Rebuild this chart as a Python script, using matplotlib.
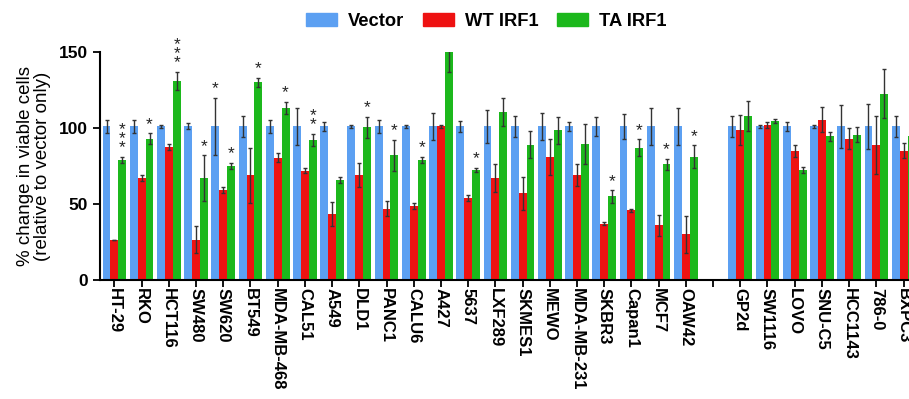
import matplotlib
matplotlib.use("Agg")
import matplotlib.pyplot as plt
from matplotlib.patches import Patch
import numpy as np

plt.rcParams['font.family'] = ['Liberation Sans', 'DejaVu Sans']

# cell lines ('' = empty slot between the two panels)
cell_lines = ['HT-29', 'RKO', 'HCT116', 'SW480', 'SW620', 'BT549', 'MDA-MB-468',
              'CAL51', 'A549', 'DLD1', 'PANC1', 'CALU6', 'A427', '5637', 'LXF289',
              'SKMES1', 'MEWO', 'MDA-MB-231', 'SKBR3', 'Capan1', 'MCF7', 'OAW42',
              '', 'GP2d', 'SW1116', 'LOVO', 'SNU-C5', 'HCC1143', '786-0', 'BXPC3']

vector = [101, 101, 101, 101, 101, 101, 101, 101, 101, 101, 101, 101, 101, 101, 101,
          101, 101, 101, 101, 101, 101, 101, np.nan, 101, 101, 101, 101, 101, 101, 101]
vector_err = [4, 4, 1, 2, 19, 7, 4, 12, 3, 1, 4, 1, 9, 3.5, 11,
              7, 9, 3, 6, 8, 12, 12, np.nan, 7, 1, 3, 1, 14, 15, 7]

wt_irf1 = [26.5, 67, 87.5, 26.5, 59, 69, 80.5, 72, 43.5, 69, 47, 48.5, 101, 54, 67,
           57, 81, 69, 37, 46, 36, 30, np.nan, 98.5, 102, 85, 105.5, 93, 89, 85]
wt_err = [0, 2, 2, 9, 2, 18, 3, 1.5, 8, 8, 5, 2, 1, 2, 9,
          11, 12, 7, 1, 1, 7, 12, np.nan, 10, 2, 4, 8, 7, 19, 5]

ta_irf1 = [79, 93, 131, 67, 75, 130, 113, 92, 65.5, 100.5, 82, 79, 150, 72.5, 110.5,
           89, 98.5, 89.5, 55, 87, 76, 81, np.nan, 108, 104.5, 72.5, 94.5, 95.5, 122.5, 95]
ta_err = [2, 3.5, 6, 15, 2, 3, 4, 4, 2, 7, 10, 2, 13, 1.5, 9,
          9, 9, 13, 4, 5.5, 3.5, 7.5, np.nan, 10, 1.5, 2, 3, 5, 16, 5]

# significance marks: (cell line, series, label)
stars = [('HT-29', 'ta', '***'), ('RKO', 'ta', '*'), ('HCT116', 'ta', '***'),
         ('SW480', 'ta', '*'), ('SW620', 'vec', '*'), ('SW620', 'ta', '*'),
         ('BT549', 'ta', '*'), ('MDA-MB-468', 'ta', '*'), ('CAL51', 'ta', '**'),
         ('DLD1', 'ta', '*'), ('PANC1', 'ta', '*'), ('CALU6', 'ta', '*'),
         ('5637', 'ta', '*'), ('SKBR3', 'ta', '*'), ('Capan1', 'ta', '*'),
         ('MCF7', 'ta', '*'), ('OAW42', 'ta', '*')]

c_vec = '#5ca0f2'
c_wt = '#ee1212'
c_ta = '#1cb81c'

fig = plt.figure(figsize=(9.09, 3.99), dpi=100)
ax = fig.add_axes([0.110, 0.298, 0.89, 0.572])

x = np.arange(len(cell_lines))
w = 0.29
ekw = dict(ecolor='#333333', elinewidth=1.0, capsize=1.5, capthick=1.0)
ax.bar(x - w, vector, w, yerr=vector_err, color=c_vec, error_kw=ekw)
ax.bar(x, wt_irf1, w, yerr=wt_err, color=c_wt, error_kw=ekw)
ax.bar(x + w, ta_irf1, w, yerr=ta_err, color=c_ta, error_kw=ekw)

series = {'vec': (vector, vector_err, -w), 'wt': (wt_irf1, wt_err, 0), 'ta': (ta_irf1, ta_err, w)}
for name, key, label in stars:
    i = cell_lines.index(name)
    vals, errs, off = series[key]
    top = vals[i] + errs[i]
    ax.text(i + off, top + 1.0, '\n'.join(label), ha='center', va='bottom',
            fontsize=12.5, linespacing=0.5, color='#222222')

ax.set_xlim(-0.53, 29.2)
ax.set_ylim(0, 150)
ax.set_yticks([0, 50, 100, 150])
ax.set_xticks(x)
ax.set_xticklabels(cell_lines, rotation=-90, fontsize=12, fontweight='bold')
ax.tick_params(axis='y', labelsize=12.5, width=1.3, length=5, direction='out')
ax.tick_params(axis='x', width=1.3, length=5, direction='out', pad=1)
for lab in ax.get_yticklabels():
    lab.set_fontweight('bold')
ax.spines['top'].set_visible(False)
ax.spines['right'].set_visible(False)
ax.spines['left'].set_linewidth(1.5)
ax.spines['bottom'].set_linewidth(1.5)
ax.set_ylabel('% change in viable cells\n(relative to vector only)', fontsize=13.5,
              labelpad=6, linespacing=1.0)

handles = [Patch(color=c_vec, label='Vector'), Patch(color=c_wt, label='WT IRF1'),
           Patch(color=c_ta, label='TA IRF1')]
fig.legend(handles=handles, loc='upper center', bbox_to_anchor=(0.535, 1.01), ncol=3,
           frameon=False, prop={'weight': 'bold', 'size': 13.2}, handlelength=1.7,
           handleheight=0.75, columnspacing=1.0, handletextpad=0.6)

fig.savefig('out.png', dpi=100)
